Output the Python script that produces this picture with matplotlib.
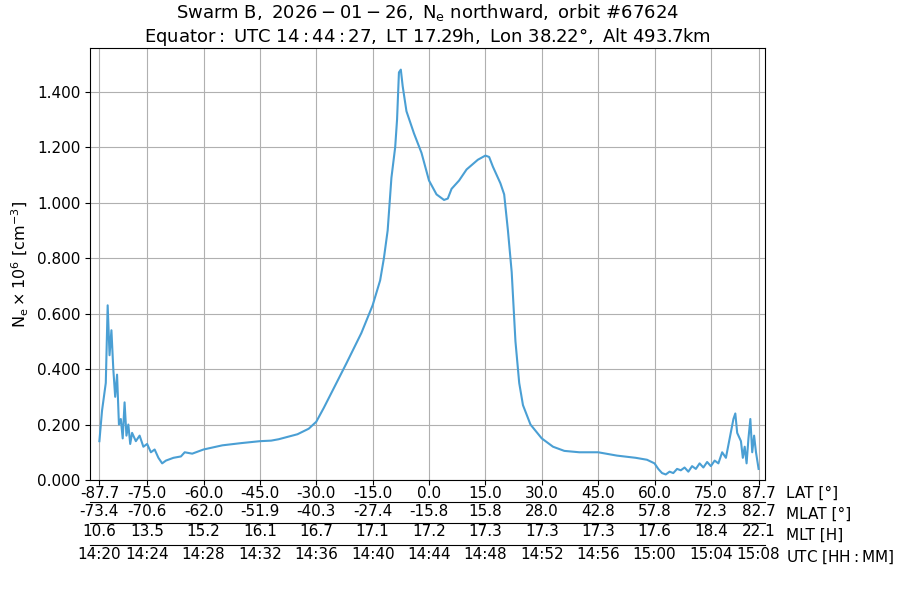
import numpy as np
import matplotlib.pyplot as plt

# electron density along the orbit
lat = [-87.7, -87, -86.5, -86, -85.5, -85, -84.5, -84, -83.5, -83, -82.5, -82, -81.5, -81,
       -80.5, -80, -79.5, -79, -78, -77, -76, -75, -74, -73, -72, -71, -70, -68, -66, -65,
       -63, -60, -55, -50, -45, -42, -40, -35, -32, -30, -28, -25, -22, -18, -15, -13, -12,
       -11, -10, -9, -8.5, -8, -7.5, -7, -6, -4, -2, 0, 2, 4, 5, 6, 8, 10, 13, 15, 16, 17,
       18, 19, 20, 21, 22, 23, 24, 25, 27, 30, 33, 36, 40, 45, 50, 55, 58, 60, 61, 62, 63,
       64, 65, 66, 67, 68, 69, 70, 71, 72, 73, 74, 75, 76, 77, 78, 79, 80, 81, 81.5, 82, 83,
       83.5, 84, 84.5, 85, 85.5, 86, 86.5, 87, 87.7]
ne = [0.14, 0.25, 0.30, 0.35, 0.63, 0.45, 0.54, 0.40, 0.30, 0.38, 0.20, 0.22, 0.15, 0.28,
      0.16, 0.20, 0.13, 0.17, 0.14, 0.16, 0.12, 0.13, 0.10, 0.11, 0.08, 0.06, 0.07, 0.08,
      0.085, 0.10, 0.095, 0.11, 0.125, 0.133, 0.14, 0.142, 0.147, 0.165, 0.185, 0.21, 0.26,
      0.34, 0.42, 0.53, 0.63, 0.72, 0.80, 0.90, 1.09, 1.20, 1.30, 1.47, 1.48, 1.42, 1.33,
      1.25, 1.18, 1.08, 1.03, 1.01, 1.015, 1.05, 1.08, 1.12, 1.155, 1.17, 1.165, 1.13, 1.10,
      1.07, 1.03, 0.90, 0.75, 0.50, 0.35, 0.27, 0.20, 0.15, 0.12, 0.105, 0.10, 0.10, 0.088,
      0.08, 0.073, 0.06, 0.04, 0.025, 0.02, 0.03, 0.025, 0.04, 0.035, 0.045, 0.03, 0.05,
      0.04, 0.06, 0.045, 0.065, 0.05, 0.07, 0.06, 0.10, 0.08, 0.15, 0.22, 0.24, 0.17, 0.14,
      0.08, 0.12, 0.06, 0.15, 0.22, 0.10, 0.16, 0.10, 0.04]

tick_lat = [-87.7, -75, -60, -45, -30, -15, 0, 15, 30, 45, 60, 75, 87.7]
lat_labels = ["-87.7", "-75.0", "-60.0", "-45.0", "-30.0", "-15.0", "0.0", "15.0", "30.0",
              "45.0", "60.0", "75.0", "87.7"]
mlat_labels = ["-73.4", "-70.6", "-62.0", "-51.9", "-40.3", "-27.4", "-15.8", "15.8", "28.0",
               "42.8", "57.8", "72.3", "82.7"]
mlt_labels = ["10.6", "13.5", "15.2", "16.1", "16.7", "17.1", "17.2", "17.3", "17.3", "17.3",
              "17.6", "18.4", "22.1"]
utc_labels = ["14:20", "14:24", "14:28", "14:32", "14:36", "14:40", "14:44", "14:48", "14:52",
              "14:56", "15:00", "15:04", "15:08"]

plt.rcParams["font.size"] = 11
fig = plt.figure(figsize=(9, 6), dpi=100)
ax = fig.add_axes([0.1, 0.2, 0.75, 0.72])
ax.plot(lat, ne, color="#4a9fd4", lw=1.5)
ax.set_xlim(-90.2, 89.4)
ax.set_ylim(0, 1.558)
ax.set_yticks(np.arange(0, 1.41, 0.2))
ax.yaxis.set_major_formatter(plt.FormatStrFormatter("%.3f"))
ax.grid(True, color="#b0b0b0", lw=0.8)
ax.set_xticks(tick_lat)
ax.set_xticklabels(lat_labels)
ax.tick_params(axis="x", pad=1)
ax.set_ylabel(r"$\mathrm{N_e} \times 10^6\ [\mathrm{cm^{-3}}]$", fontsize=11.5)
ax.set_title(r"$\mathrm{Swarm\ B,\ 2026-01-26,\ N_e\ northward,\ orbit\ \#67624}$" "\n"
             r"$\mathrm{Equator:\ UTC\ 14:44:27,\ LT\ 17.29h,\ Lon\ 38.22°,\ Alt\ 493.7km}$",
             fontsize=13, pad=3)

# extra label rows under the plot (offsets in points)
rows = [(mlat_labels, 16), (mlt_labels, 31), (utc_labels, 47)]
for labels, off in rows:
    sec = ax.twiny()
    sec.set_xlim(ax.get_xlim())
    sec.xaxis.set_ticks_position("bottom")
    sec.spines["bottom"].set_position(("outward", off))
    for s in ["top", "left", "right"]:
        sec.spines[s].set_visible(False)
    sec.set_xticks(tick_lat)
    sec.set_xticklabels(labels)
    sec.tick_params(axis="x", length=0, pad=1)

names = ["LAT [°]", "MLAT [°]", "MLT [H]", r"$\mathrm{UTC\ [HH:MM]}$"]
ypix = [493, 514, 535, 557]
for n, yp in zip(names, ypix):
    fig.text(0.873, 1 - yp / 600, n, ha="left", va="center", fontsize=11)

fig.savefig("out.png")
